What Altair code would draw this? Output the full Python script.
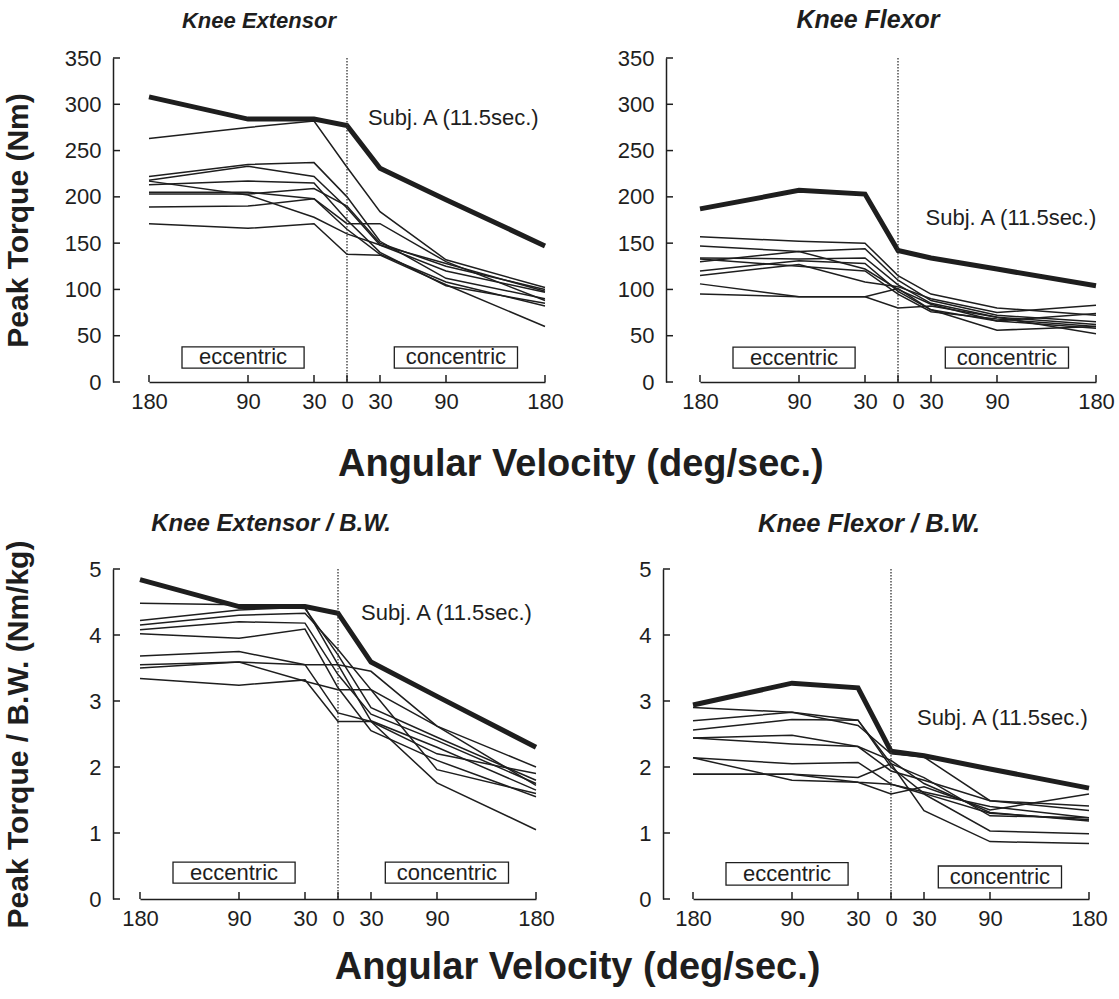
import altair as alt
import pandas as pd

# ---------------- data ----------------
VEL = [-180, -90, -30, 0, 30, 90, 180]   # negative = eccentric, positive = concentric

EXT_A = [308, 284, 284, 277, 231, 197, 147]
EXT_OTHERS = [
    [263, 275, 282, 232, 184, 132, 102],
    [222, 235, 237, 200, 152, 112, 90],
    [218, 233, 222, 188, 148, 120, 97],
    [213, 217, 215, 175, 140, 104, 85],
    [203, 203, 209, 190, 150, 125, 100],
    [217, 202, 178, 160, 148, 128, 98],
    [189, 190, 198, 165, 138, 108, 82],
    [171, 166, 171, 138, 137, 105, 60],
    [205, 205, 198, 171, 171, 130, 88],
]

FLX_A = [187, 207, 203, 142, 134, 122, 104]
FLX_OTHERS = [
    [157, 152, 150, 115, 95, 80, 72],
    [147, 141, 144, 110, 88, 72, 65],
    [134, 133, 134, 105, 85, 70, 62],
    [130, 141, 122, 100, 84, 66, 74],
    [120, 131, 128, 98, 78, 56, 60],
    [115, 127, 108, 103, 90, 75, 83],
    [106, 92, 92, 101, 78, 66, 58],
    [95, 92, 92, 80, 82, 70, 52],
    [133, 125, 120, 95, 76, 68, 60],
]

EXTBW_A = [4.84, 4.43, 4.43, 4.33, 3.59, 3.07, 2.30]
EXTBW_OTHERS = [
    [4.48, 4.46, 4.40, 3.70, 2.90, 2.45, 1.80],
    [4.22, 4.38, 4.42, 3.55, 2.70, 2.30, 1.65],
    [4.15, 4.30, 4.33, 3.78, 3.17, 2.62, 2.00],
    [4.08, 4.20, 4.18, 3.40, 2.80, 2.40, 1.75],
    [4.02, 3.95, 4.09, 3.20, 2.55, 2.10, 1.55],
    [3.68, 3.75, 3.55, 2.82, 2.69, 2.20, 1.90],
    [3.55, 3.59, 3.55, 3.55, 3.45, 2.62, 1.72],
    [3.50, 3.59, 3.30, 3.17, 3.17, 1.96, 1.60],
    [3.34, 3.24, 3.32, 2.69, 2.69, 1.76, 1.05],
]

FLXBW_A = [2.94, 3.27, 3.20, 2.24, 2.17, 1.97, 1.68]
FLXBW_OTHERS = [
    [2.90, 2.83, 2.71, 2.00, 1.60, 1.30, 1.20],
    [2.70, 2.83, 2.63, 2.20, 2.15, 1.49, 1.41],
    [2.56, 2.72, 2.71, 2.05, 1.84, 1.26, 1.23],
    [2.44, 2.48, 2.31, 2.10, 1.75, 1.31, 1.18],
    [2.44, 2.35, 2.31, 1.94, 1.80, 1.49, 1.34],
    [2.14, 2.05, 2.07, 1.74, 1.59, 1.03, 0.99],
    [2.14, 1.80, 1.77, 1.59, 1.70, 1.35, 1.59],
    [1.89, 1.89, 1.84, 2.05, 1.34, 0.87, 0.84],
    [1.89, 1.89, 1.77, 1.74, 1.62, 1.40, 1.23],
]

TICKS_NM = [0, 50, 100, 150, 200, 250, 300, 350]
TICKS_BW = [0, 1, 2, 3, 4, 5]
SUBJ_LABEL = "Subj. A (11.5sec.)"
X_TITLE = "Angular Velocity (deg/sec.)"

# ---------------- styling ----------------
C = "#1e1e1e"
FONT = "Liberation Sans"
W = 396
TICK = 7


def frames(subj_a, others):
    rows = []
    for i, series in enumerate(others):
        for v, y in zip(VEL, series):
            rows.append({"subj": f"S{i + 2}", "v": v, "val": y})
    thin = pd.DataFrame(rows)
    thick = pd.DataFrame({"v": VEL, "val": subj_a, "subj": "A"})
    return thin, thick


def panel(subj_a, others, title, tsize, tdx, toff, ymax, yticks, ytitle, ytpad,
          yoff, H, subj_xy, ecc_y, con_y, lpad=0):
    thin, thick = frames(subj_a, others)
    xs = alt.Scale(domain=[-180, 180], range=[lpad, W + lpad], nice=False, zero=False)
    ys = alt.Scale(domain=[0, ymax], nice=False, zero=True)

    x_axis = alt.Axis(values=VEL, labelExpr="abs(datum.value)", ticks=False,
                      domainColor=C, domainWidth=1.5, labelFontSize=22,
                      labelColor=C, labelPadding=9, grid=False, title=None,
                      labelFlush=False, labelOverlap=False)
    y_kwargs = dict(values=yticks, ticks=False, offset=yoff, domainColor=C,
                    domainWidth=1.5, labelFontSize=22, labelColor=C,
                    labelPadding=12, grid=False, labelFlush=False,
                    labelOverlap=False)
    if ytitle:
        y_axis = alt.Axis(title=ytitle, titleFontSize=30, titleFontWeight="bold",
                          titleColor=C, titlePadding=ytpad, **y_kwargs)
    else:
        y_axis = alt.Axis(title=None, **y_kwargs)

    thin_l = alt.Chart(thin).mark_line(color=C, strokeWidth=1.5).encode(
        x=alt.X("v:Q", scale=xs, axis=x_axis),
        y=alt.Y("val:Q", scale=ys, axis=y_axis),
        detail="subj:N",
    )
    thick_l = alt.Chart(thick).mark_line(color=C, strokeWidth=5).encode(
        x=alt.X("v:Q", scale=xs, axis=None),
        y=alt.Y("val:Q", scale=ys, axis=None),
    )
    # inward tick marks, placed at the tick values through the scales
    xt = alt.Chart(pd.DataFrame({"v": VEL})).mark_rule(color=C, strokeWidth=1.5).encode(
        x=alt.X("v:Q", scale=xs, axis=None),
        y=alt.value(H), y2=alt.value(H - TICK),
    )
    yt = alt.Chart(pd.DataFrame({"val": yticks})).mark_rule(color=C, strokeWidth=1.5).encode(
        y=alt.Y("val:Q", scale=ys, axis=None),
        x=alt.value(-yoff), x2=alt.value(-yoff + TICK),
    )
    rule = alt.Chart(pd.DataFrame({"v": [0]})).mark_rule(
        color="#333", strokeWidth=1.3, strokeDash=[1.5, 1.5]).encode(
        x=alt.X("v:Q", scale=xs, axis=None))

    boxes = pd.DataFrame({
        "label": ["eccentric", "concentric"],
        "x1": [-150, 43], "x2": [-39, 155],
        "y1": [ecc_y[0], con_y[0]], "y2": [ecc_y[1], con_y[1]],
    })
    boxes["xc"] = (boxes["x1"] + boxes["x2"]) / 2
    boxes["yc"] = (boxes["y1"] + boxes["y2"]) / 2
    rect = alt.Chart(boxes).mark_rect(fill="white", stroke=C, strokeWidth=1.3).encode(
        x=alt.X("x1:Q", scale=xs, axis=None), x2="x2:Q",
        y=alt.Y("y1:Q", scale=ys, axis=None), y2="y2:Q",
    )
    btext = alt.Chart(boxes).mark_text(fontSize=22, color=C, baseline="middle").encode(
        x=alt.X("xc:Q", scale=xs, axis=None),
        y=alt.Y("yc:Q", scale=ys, axis=None),
        text="label:N",
    )
    sdf = pd.DataFrame({"v": [subj_xy[0]], "val": [subj_xy[1]], "t": [SUBJ_LABEL]})
    stext = alt.Chart(sdf).mark_text(fontSize=22, color=C, align="left",
                                     baseline="middle").encode(
        x=alt.X("v:Q", scale=xs, axis=None),
        y=alt.Y("val:Q", scale=ys, axis=None),
        text="t:N",
    )
    return alt.layer(thin_l, thick_l, rule, rect, btext, stext, xt, yt).resolve_axis(
        x="independent", y="independent"
    ).properties(
        width=W + lpad, height=H,
        title=alt.TitleParams(text=title, fontSize=tsize, fontStyle="italic",
                              fontWeight="bold", anchor="middle", frame="group",
                              dx=tdx, offset=toff, color=C),
    )


p1 = panel(EXT_A, EXT_OTHERS, "Knee Extensor", 22, -83.5, 14, 350, TICKS_NM,
           "Peak Torque (Nm)", 31, 27, 324, (19, 285), (15, 38), (15, 38), lpad=9)
p2 = panel(FLX_A, FLX_OTHERS, "Knee Flexor", 25, -30, 14, 350, TICKS_NM,
           None, 0, 34, 324, (25, 177), (15, 37.6), (15, 37.6))
p3 = panel(EXTBW_A, EXTBW_OTHERS, "Knee Extensor / B.W.", 24, -67, 4, 5, TICKS_BW,
           "Peak Torque / B.W. (Nm/kg)", 55, 27, 330, (21, 4.33), (0.24, 0.56), (0.24, 0.56))
p4 = panel(FLXBW_A, FLXBW_OTHERS, "Knee Flexor / B.W.", 25.5, -22, 21, 5, TICKS_BW,
           None, 0, 30, 330, (23.6, 2.75), (0.21, 0.55), (0.17, 0.5))

xt1 = dict(orient="bottom", anchor="middle", fontSize=38, fontWeight="bold",
           color=C, dx=22, offset=34)
xt2 = dict(xt1, offset=20)
row1 = alt.hconcat(p1, p2, spacing=53).properties(title=alt.TitleParams(X_TITLE, **xt1))
row2 = alt.hconcat(p3, p4, spacing=83).properties(title=alt.TitleParams(X_TITLE, **xt2))

chart = alt.vconcat(row1, row2, spacing=27).properties(
    padding={"left": 3, "top": 8, "right": 4, "bottom": 4},
    background="white",
).configure(font=FONT).configure_view(stroke=None)

chart.save("out.html", embed_options={"renderer": "svg", "actions": False})
